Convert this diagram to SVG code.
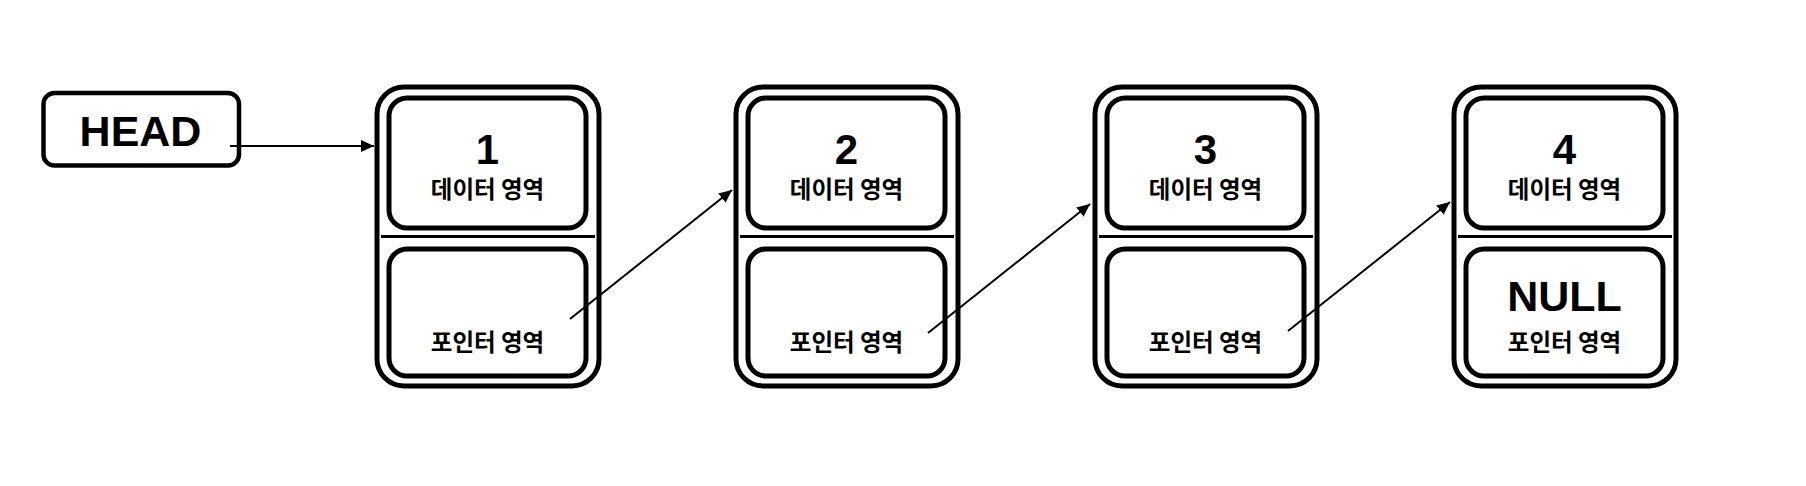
<svg xmlns="http://www.w3.org/2000/svg" width="1806" height="486" viewBox="0 0 1806 486">
<style>
.box{fill:#fff;stroke:#000;stroke-width:5}
.outer{fill:#fff;stroke:#000;stroke-width:5}
.div{stroke:#000;stroke-width:3}
.num{font-family:"Liberation Sans",Arial,sans-serif;font-weight:bold;font-size:42px;text-anchor:middle;fill:#000}
.ko{font-family:"Noto Sans CJK KR","Noto Sans",sans-serif;font-weight:bold;font-size:23.5px;text-anchor:middle;fill:#000}
.conn{stroke:#000;stroke-width:2;fill:none;marker-end:url(#arr)}
</style>
<defs>
<marker id="arr" markerUnits="userSpaceOnUse" markerWidth="14" markerHeight="12" refX="13" refY="6" orient="auto">
<path d="M0,0 L13,6 L0,12 Z" fill="#000"/>
</marker>
</defs>
<rect width="1806" height="486" fill="#fff"/>
<g id="head">
<rect x="43.5" y="93" width="195.5" height="72.5" rx="11" fill="#fff" stroke="#000" stroke-width="4.5"/>
<text x="140.5" y="145.5" class="num" style="font-size:43px">HEAD</text>
</g>
<g id="node1">
<rect class="outer" x="377" y="87" width="222" height="299" rx="27"/>
<rect class="box" x="389" y="98" width="197" height="130" rx="18"/>
<line class="div" x1="381" y1="236.5" x2="595" y2="236.5"/>
<rect class="box" x="389" y="249" width="197" height="127" rx="18"/>
<text class="num" x="487.5" y="164">1</text>
<text class="ko" x="487.5" y="198">데이터 영역</text>
<text class="ko" x="487.5" y="351">포인터 영역</text>
</g>
<g id="node2">
<rect class="outer" x="736" y="87" width="222" height="299" rx="27"/>
<rect class="box" x="748" y="98" width="197" height="130" rx="18"/>
<line class="div" x1="740" y1="236.5" x2="954" y2="236.5"/>
<rect class="box" x="748" y="249" width="197" height="127" rx="18"/>
<text class="num" x="846.5" y="164">2</text>
<text class="ko" x="846.5" y="198">데이터 영역</text>
<text class="ko" x="846.5" y="351">포인터 영역</text>
</g>
<g id="node3">
<rect class="outer" x="1095" y="87" width="222" height="299" rx="27"/>
<rect class="box" x="1107" y="98" width="197" height="130" rx="18"/>
<line class="div" x1="1099" y1="236.5" x2="1313" y2="236.5"/>
<rect class="box" x="1107" y="249" width="197" height="127" rx="18"/>
<text class="num" x="1205.5" y="164">3</text>
<text class="ko" x="1205.5" y="198">데이터 영역</text>
<text class="ko" x="1205.5" y="351">포인터 영역</text>
</g>
<g id="node4">
<rect class="outer" x="1454" y="87" width="222" height="299" rx="27"/>
<rect class="box" x="1466" y="98" width="197" height="130" rx="18"/>
<line class="div" x1="1458" y1="236.5" x2="1672" y2="236.5"/>
<rect class="box" x="1466" y="249" width="197" height="127" rx="18"/>
<text class="num" x="1564.5" y="164">4</text>
<text class="ko" x="1564.5" y="198">데이터 영역</text>
<text class="num" x="1564.5" y="311" style="font-size:43px">NULL</text>
<text class="ko" x="1564.5" y="351">포인터 영역</text>
</g>
<g id="connectors">
<line class="conn" x1="230" y1="146" x2="374" y2="146"/>
<line class="conn" x1="570" y1="319" x2="732" y2="190"/>
<line class="conn" x1="928" y1="333" x2="1090" y2="204"/>
<line class="conn" x1="1288" y1="331" x2="1450" y2="202"/>
</g>
</svg>
